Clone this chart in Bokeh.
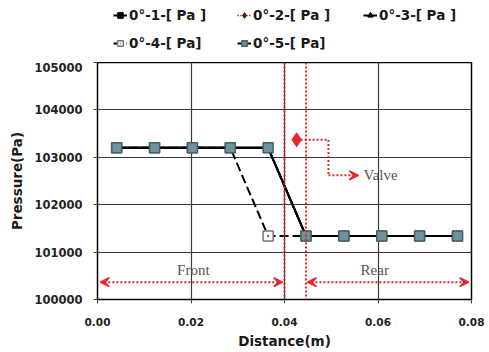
from bokeh.plotting import figure
from bokeh.models import (FixedTicker, NumeralTickFormatter, Legend, LegendItem,
                          Span, Arrow, VeeHead, Label, Range1d)
from bokeh.layouts import column
from bokeh.embed import file_html
from bokeh.resources import INLINE

# ---- data ----
distance = [0.0041, 0.0122, 0.0203, 0.0284, 0.0365, 0.0446, 0.0527, 0.0608, 0.0689, 0.0770]
p1 = [103200, 103200, 103200, 103200, 103200, 101340, 101340, 101340, 101340, 101340]
p2 = [103200, 103200, 103200, 103200, 103200, 101340, 101340, 101340, 101340, 101340]
p3 = [103200, 103200, 103200, 103200, 103200, 101340, 101340, 101340, 101340, 101340]
p4 = [103200, 103200, 103200, 103200, 101340, 101340, 101340, 101340, 101340, 101340]
p5 = [103200, 103200, 103200, 103200, 103200, 101340, 101340, 101340, 101340, 101340]
labels = ["0°-1-[ Pa ]", "0°-2-[ Pa ]", "0°-3-[ Pa ]", "0°-4-[ Pa]", "0°-5-[ Pa]"]
x_ticks = [0.0, 0.02, 0.04, 0.06, 0.08]
y_ticks = [100000, 101000, 102000, 103000, 104000, 105000]

valve_x = [0.0400, 0.0446]
valve_marker_x = [0.0426]
valve_marker_y = [103370]
valve_path_x = [0.0426, 0.0494, 0.0494]
valve_path_y = [103370, 103370, 102620]
valve_arrow = (0.0494, 0.0558, 102620)
front_arrow = (0.0006, 0.0396, 100365)
rear_arrow = (0.0449, 0.0794, 100365)

RED = "#e5262c"

# series styles (shared by plot and legend)
styles = [
    dict(line=dict(line_color="black", line_width=2),
         mark=dict(marker="square", size=8, fill_color="black", line_color="black")),
    dict(line=dict(line_color="black", line_width=1.5, line_dash="1 2"),
         mark=dict(marker="diamond", size=9, fill_color="#7a1010", line_color="#3a0a0a")),
    dict(line=dict(line_color="black", line_width=2),
         mark=dict(marker="triangle", size=8, fill_color="black", line_color="black")),
    dict(line=dict(line_color="black", line_width=2, line_dash="9 4"),
         mark=dict(marker="square_dot", size=10, fill_color="white", line_color="#777777", line_width=1.5)),
    dict(line=dict(line_color="black", line_width=2),
         mark=dict(marker="square", size=10, fill_color="#6e939c", line_color="#44606a", line_width=1.5)),
]
series = [p1, p2, p3, p4, p5]

p = figure(width=489, height=290, output_backend="svg", toolbar_location=None,
           x_range=Range1d(0, 0.08), y_range=Range1d(100000, 105000),
           min_border_left=97, min_border_right=18, min_border_top=0, min_border_bottom=53)
p.background_fill_color = "white"
p.border_fill_color = "white"
p.outline_line_color = "black"
p.outline_line_width = 1.5

for ax in (p.xaxis[0], p.yaxis[0]):
    ax.major_label_text_font = "DejaVu Sans"
    ax.major_label_text_font_style = "bold"
    ax.major_label_text_color = "#222222"
    ax.axis_label_text_font = "DejaVu Sans"
    ax.axis_label_text_font_style = "bold"
    ax.axis_label_text_font_size = "13.5px"
    ax.axis_label_text_color = "#1a1a1a"
    ax.minor_tick_line_color = None
    ax.major_tick_in = 0
    ax.major_tick_out = 4
    ax.axis_line_color = "black"
    ax.major_tick_line_color = "#444444"

p.xaxis.major_label_text_font_size = "10.5px"
p.yaxis.major_label_text_font_size = "11.5px"
p.xaxis.major_label_standoff = 14
p.yaxis.major_label_standoff = 11
p.xaxis.ticker = FixedTicker(ticks=x_ticks)
p.yaxis.ticker = FixedTicker(ticks=y_ticks)
p.xaxis.formatter = NumeralTickFormatter(format="0.00")
p.yaxis.formatter = NumeralTickFormatter(format="0")
p.xaxis.axis_label = "Distance(m)"
p.yaxis.axis_label = "Pressure(Pa)"
p.xaxis.axis_label_standoff = 4
p.yaxis.axis_label_standoff = 6

p.xgrid.grid_line_color = "#3a3a3a"
p.ygrid.grid_line_color = "#3a3a3a"
p.xgrid.grid_line_width = 1.2
p.ygrid.grid_line_width = 1.2

for ys, st in zip(series, styles):
    p.line(distance, ys, **st["line"])
    p.scatter(distance, ys, **st["mark"])

# valve markers
for vx in valve_x:
    p.add_layout(Span(location=vx, dimension="height", line_color=RED, line_width=2, line_dash="2 2"))
p.line(valve_path_x, valve_path_y, line_color=RED, line_width=2, line_dash="2 2")
p.scatter(valve_marker_x, valve_marker_y, marker="diamond", size=14, fill_color=RED, line_color=RED)
p.add_layout(Arrow(x_start=valve_arrow[0], x_end=valve_arrow[1], y_start=valve_arrow[2], y_end=valve_arrow[2],
                   line_color=RED, line_width=2, line_dash="2 2",
                   end=VeeHead(size=9, fill_color=RED, line_color=RED, line_width=1.5)))
p.add_layout(Label(x=0.0569, y=102620, text="Valve", text_font="Liberation Serif", text_font_size="15px",
                   text_color="#555555", text_baseline="middle", text_align="left"))

for (xa, xb, yy) in (front_arrow, rear_arrow):
    p.add_layout(Arrow(x_start=xa, x_end=xb, y_start=yy, y_end=yy, line_color=RED, line_width=2, line_dash="2 2",
                       start=VeeHead(size=9, fill_color=RED, line_color=RED, line_width=1.5),
                       end=VeeHead(size=9, fill_color=RED, line_color=RED, line_width=1.5)))
p.add_layout(Label(x=0.0205, y=100620, text="Front", text_font="Liberation Serif", text_font_size="15px",
                   text_color="#555555", text_baseline="middle", text_align="center"))
p.add_layout(Label(x=0.0593, y=100620, text="Rear", text_font="Liberation Serif", text_font_size="15px",
                   text_color="#555555", text_baseline="middle", text_align="center"))

# legend strip above the chart (its frame is aligned with the chart frame)
lf = figure(width=489, height=62, output_backend="svg", toolbar_location=None,
            x_range=Range1d(0, 1), y_range=Range1d(0, 1),
            min_border=0, min_border_left=0, min_border_right=0, min_border_top=0, min_border_bottom=0)
lf.axis.visible = False
lf.grid.visible = False
lf.outline_line_color = None
lf.border_fill_color = "white"
legend_pos = [(16, 37), (140, 37), (266, 37), (16, 9), (140, 9)]
for ys, st, lab, loc in zip(series, styles, labels, legend_pos):
    rl = lf.line([-5, -4], [-5, -4], **st["line"])
    rs = lf.scatter([-5], [-5], **st["mark"])
    lg = Legend(items=[LegendItem(label=lab, renderers=[rl, rs])], location=loc,
                border_line_color=None, background_fill_alpha=0,
                label_text_font="DejaVu Sans", label_text_font_style="bold",
                label_text_font_size="13.5px", label_text_color="#1a1a1a",
                glyph_width=14, glyph_height=14, label_standoff=2,
                padding=0, margin=0, spacing=0, label_height=20)
    lf.add_layout(lg)

open("out.html", "w").write(file_html(column(lf, p, spacing=0), INLINE))
